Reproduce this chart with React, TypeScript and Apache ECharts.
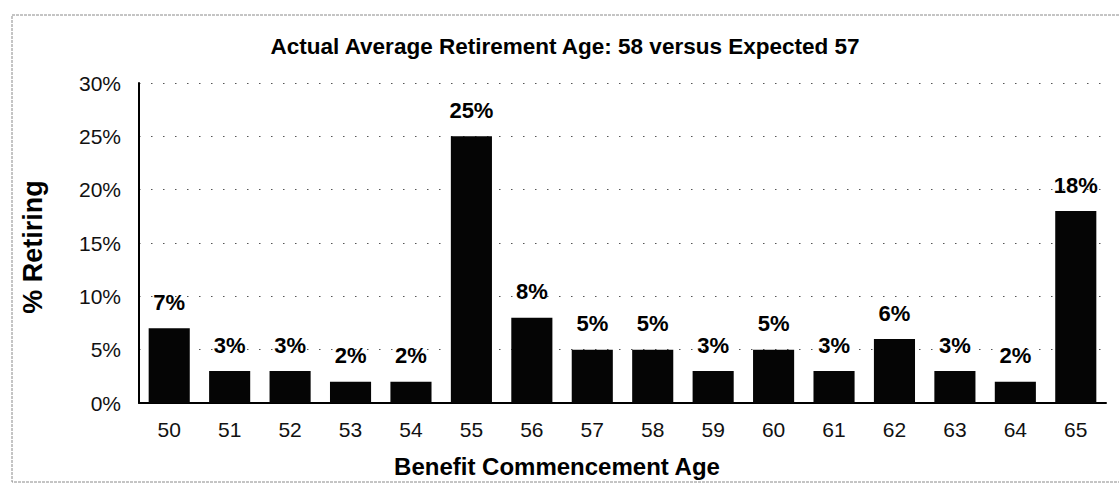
import React, { useEffect, useRef } from "react";
import * as echarts from "echarts";

const ages: string[] = ["50","51","52","53","54","55","56","57","58","59","60","61","62","63","64","65"];
const retiringPct: number[] = [7, 3, 3, 2, 2, 25, 8, 5, 5, 3, 5, 3, 6, 3, 2, 18];
const yTicks: number[] = [0, 5, 10, 15, 20, 25, 30];
const titleText = "Actual Average Retirement Age: 58 versus Expected 57";
const xName = "Benefit Commencement Age";
const yName = "% Retiring";

const FONT = "'Liberation Sans', Arial, Helvetica, sans-serif";

export default function App() {
  const ref = useRef<HTMLDivElement>(null);
  useEffect(() => {
    if (!ref.current) return;
    const chart = echarts.init(ref.current, null, { renderer: "svg" });
    chart.setOption({
      animation: false,
      backgroundColor: "#ffffff",
      textStyle: { fontFamily: FONT },
      grid: { left: 139, right: 13, top: 83, bottom: 86, containLabel: false },
      xAxis: {
        type: "category",
        data: ages,
        boundaryGap: true,
        axisLine: { show: true, lineStyle: { color: "#000", width: 2 } },
        axisTick: { show: false },
        axisLabel: { color: "#111", fontSize: 21, fontFamily: FONT, margin: 16 },
        splitLine: { show: false },
      },
      yAxis: {
        type: "value",
        min: yTicks[0],
        max: yTicks[yTicks.length - 1],
        interval: 5,
        axisLine: { show: true, lineStyle: { color: "#000", width: 2 } },
        axisTick: { show: false },
        axisLabel: { color: "#111", fontSize: 21, fontFamily: FONT, margin: 18, formatter: "{value}%" },
        splitLine: { show: true, lineStyle: { color: "#555", width: 1, type: [1.5, 10.5] } },
      },
      series: [
        {
          type: "bar",
          data: retiringPct,
          barWidth: "68%",
          itemStyle: { color: "#050505" },
          label: {
            show: true,
            position: "top",
            distance: 15,
            formatter: (p: any) => `${Math.round(p.value)}%`,
            color: "#000",
            fontWeight: "bold",
            fontSize: 22,
            fontFamily: FONT,
          },
        },
      ],
      graphic: [
        {
          type: "polyline",
          shape: { points: [[1119, 15], [12, 15], [12, 482], [1119, 482]] },
          style: { stroke: "#8a8a8a", lineWidth: 1, fill: "none", lineDash: [3, 1] },
          silent: true,
        },
        {
          type: "text",
          x: 565,
          y: 46,
          style: {
            text: titleText,
            fontSize: 22.5,
            fontWeight: "bold",
            fontFamily: FONT,
            fill: "#000",
            align: "center",
            verticalAlign: "middle",
          },
        },
        {
          type: "text",
          x: 557,
          y: 466,
          style: {
            text: xName,
            fontSize: 24,
            fontWeight: "bold",
            fontFamily: FONT,
            fill: "#000",
            align: "center",
            verticalAlign: "middle",
          },
        },
        {
          type: "text",
          x: 33,
          y: 247,
          rotation: Math.PI / 2,
          style: {
            text: yName,
            fontSize: 27,
            fontWeight: "bold",
            fontFamily: FONT,
            fill: "#000",
            align: "center",
            verticalAlign: "middle",
          },
        },
      ],
    });
    return () => chart.dispose();
  }, []);
  return (
    <div
      ref={ref}
      style={{ position: "fixed", left: 0, top: 0, width: 1119, height: 489, background: "#fff" }}
    />
  );
}
